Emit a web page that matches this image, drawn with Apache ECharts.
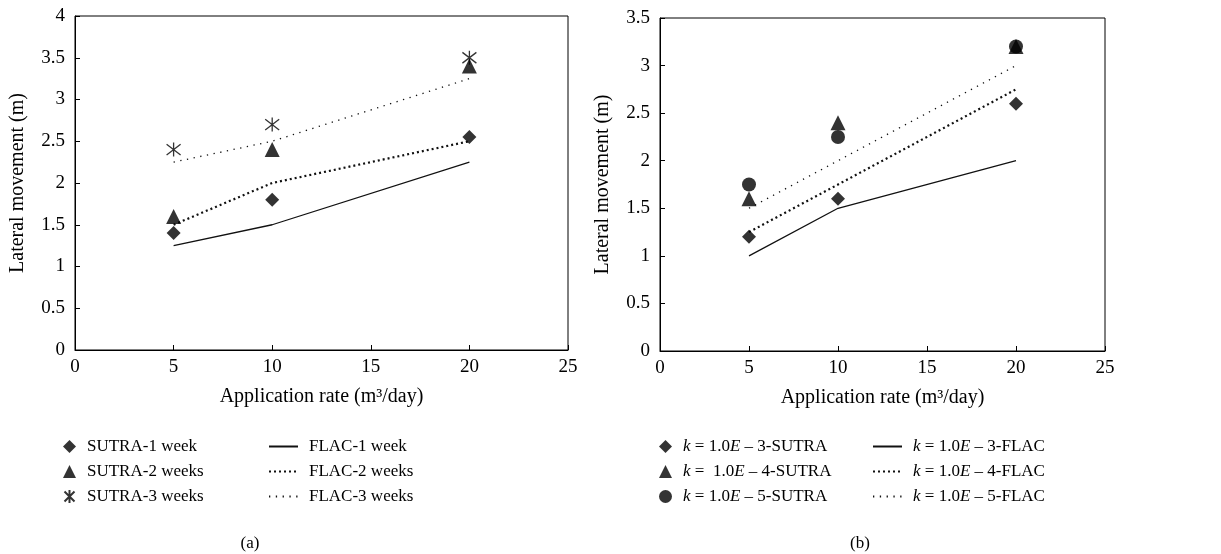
<!DOCTYPE html>
<html>
<head>
<meta charset="utf-8">
<script src="https://cdn.jsdelivr.net/npm/echarts@6/dist/echarts.min.js"></script>
<style>html,body{margin:0;padding:0;background:#fff;}#c{width:1221px;height:554px;}</style>
</head>
<body>
<div id="c"></div>
<script>
// ---- data ----
const rates = [5, 10, 20];
// panel (a)
const sutra1w = [1.4, 1.8, 2.55];
const sutra2w = [1.6, 2.4, 3.4];
const sutra3w = [2.4, 2.7, 3.5];
const flac1w = [1.25, 1.5, 2.25];
const flac2w = [1.5, 2.0, 2.5];
const flac3w = [2.25, 2.5, 3.25];
// panel (b)
const sutraK3 = [1.2, 1.6, 2.6];
const sutraK4 = [1.6, 2.4, 3.2];
const sutraK5 = [1.75, 2.25, 3.2];
const flacK3 = [1.0, 1.5, 2.0];
const flacK4 = [1.25, 1.75, 2.75];
const flacK5 = [1.5, 2.0, 3.0];

const namesA = ['SUTRA-1 week', 'SUTRA-2 weeks', 'SUTRA-3 weeks', 'FLAC-1 week', 'FLAC-2 weeks', 'FLAC-3 weeks'];
const namesB = ['k = 1.0E – 3-SUTRA', 'k =  1.0E – 4-SUTRA', 'k = 1.0E – 5-SUTRA', 'k = 1.0E – 3-FLAC', 'k = 1.0E – 4-FLAC', 'k = 1.0E – 5-FLAC'];

const FONT = 'Liberation Serif';
const AX = 19;
const pts = arr => rates.map((x, i) => [x, arr[i]]);
const STAR = 'path://M0,0L10,10M10,0L0,10M5,-1.5L5,11.5';

function xAxis(gi) {
  return {
    gridIndex: gi, type: 'value', min: 0, max: 25, interval: 5,
    name: 'Application rate (m³/day)', nameLocation: 'middle', nameGap: 37,
    nameTextStyle: {fontFamily: FONT, fontSize: 20, color: '#000'},
    axisLine: {lineStyle: {color: '#000', width: 1}},
    axisTick: {inside: true, length: 5, lineStyle: {color: '#000'}},
    axisLabel: {fontFamily: FONT, fontSize: AX, color: '#000', margin: 8},
    splitLine: {show: false}
  };
}
function yAxis(gi, max) {
  return {
    gridIndex: gi, type: 'value', min: 0, max: max, interval: 0.5,
    name: 'Lateral movement (m)', nameLocation: 'middle', nameGap: 47,
    nameTextStyle: {fontFamily: FONT, fontSize: 20, color: '#000'},
    axisLine: {lineStyle: {color: '#000', width: 1}},
    axisTick: {inside: true, length: 5, lineStyle: {color: '#000'}},
    axisLabel: {fontFamily: FONT, fontSize: AX, color: '#000', margin: 10},
    splitLine: {show: false}
  };
}
function scatter(name, gi, arr, symbol, size, hollow) {
  return {
    name: name, type: 'scatter', xAxisIndex: gi, yAxisIndex: gi,
    data: pts(arr), symbol: symbol, symbolSize: size, z: 5,
    itemStyle: hollow ? {color: 'rgba(0,0,0,0)', borderColor: '#000', borderWidth: 1.3} : {color: '#000'}
  };
}
function line(name, gi, arr, width, type) {
  return {
    name: name, type: 'line', xAxisIndex: gi, yAxisIndex: gi,
    data: pts(arr), symbol: 'none', showSymbol: false,
    lineStyle: {color: '#111', width: width, type: type},
    itemStyle: {color: '#111'}
  };
}
const richB = {
  i: {fontFamily: FONT, fontSize: 17, fontStyle: 'italic', color: '#000'},
  n: {fontFamily: FONT, fontSize: 17, color: '#000'}
};
function fmtB(name) {
  return name.replace(/^k(.*?)E(.*)$/, '{i|k}{n|$1}{i|E}{n|$2}');
}
function legendSym(left, data, rich) {
  const l = {
    orient: 'vertical', left: left, top: 438, itemGap: 8, padding: 0,
    itemWidth: 13, itemHeight: 13, data: data, selectedMode: false,
    textStyle: {fontFamily: FONT, fontSize: 17, color: '#000', padding: [0, 0, 0, 6]}
  };
  if (rich) { l.textStyle.rich = richB; l.formatter = fmtB; }
  return l;
}
function legendLine(left, data, rich) {
  const l = {
    orient: 'vertical', left: left, top: 438, itemGap: 8, padding: 0,
    itemWidth: 29, itemHeight: 13, data: data, selectedMode: false,
    itemStyle: {opacity: 0, color: 'rgba(0,0,0,0)', borderWidth: 0},
    textStyle: {fontFamily: FONT, fontSize: 17, color: '#000', padding: [0, 0, 0, 6]}
  };
  if (rich) { l.textStyle.rich = richB; l.formatter = fmtB; }
  return l;
}

const chart = echarts.init(document.getElementById('c'));
chart.setOption({
  animation: false,
  backgroundColor: '#fff',
  grid: [
    {left: 75, top: 16, width: 493, height: 334, show: true, borderColor: '#000', borderWidth: 1},
    {left: 660, top: 18, width: 445, height: 333, show: true, borderColor: '#000', borderWidth: 1}
  ],
  xAxis: [xAxis(0), xAxis(1)],
  yAxis: [yAxis(0, 4), yAxis(1, 3.5)],
  legend: [
    legendSym(63, namesA.slice(0, 3), false),
    legendLine(268, namesA.slice(3), false),
    legendSym(659, namesB.slice(0, 3), true),
    legendLine(872, namesB.slice(3), true)
  ],
  title: [
    {text: '(a)', left: 245, top: 530, textAlign: 'center', textStyle: {fontFamily: FONT, fontSize: 17, fontWeight: 'normal', color: '#000'}},
    {text: '(b)', left: 855, top: 530, textAlign: 'center', textStyle: {fontFamily: FONT, fontSize: 17, fontWeight: 'normal', color: '#000'}}
  ],
  series: [
    scatter(namesA[0], 0, sutra1w, 'diamond', 14),
    scatter(namesA[1], 0, sutra2w, 'triangle', 15),
    scatter(namesA[2], 0, sutra3w, STAR, 14, true),
    line(namesA[3], 0, flac1w, 1.3, 'solid'),
    line(namesA[4], 0, flac2w, 2.2, [2, 3]),
    line(namesA[5], 0, flac3w, 1.3, [1.3, 5.5]),
    scatter(namesB[0], 1, sutraK3, 'diamond', 14),
    scatter(namesB[1], 1, sutraK4, 'triangle', 15),
    scatter(namesB[2], 1, sutraK5, 'circle', 14),
    line(namesB[3], 1, flacK3, 1.3, 'solid'),
    line(namesB[4], 1, flacK4, 2.2, [2, 3]),
    line(namesB[5], 1, flacK5, 1.3, [1.3, 5.5])
  ]
});
</script>
</body>
</html>
